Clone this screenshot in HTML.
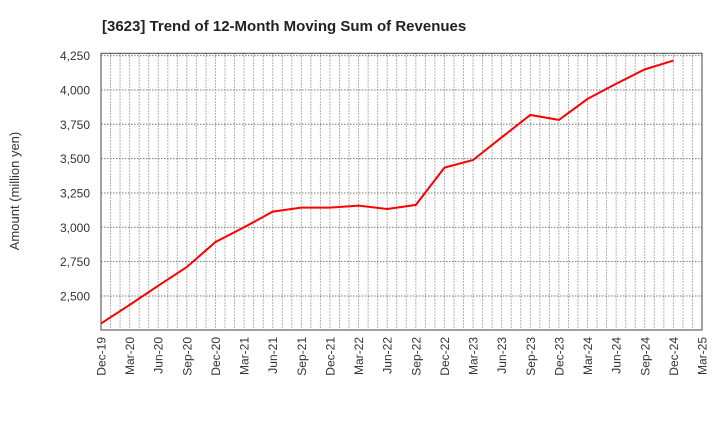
<!DOCTYPE html>
<html><head><meta charset="utf-8"><style>
body{margin:0;background:#fff;font-family:"Liberation Sans",sans-serif}
</style></head><body>
<svg id="chart" width="720" height="440" xmlns="http://www.w3.org/2000/svg">
<text x="102" y="31" text-anchor="start" font-size="15" font-weight="bold" fill="#222">[3623]  Trend of 12-Month Moving Sum of Revenues</text>
<text transform="translate(19,191) rotate(-90)" text-anchor="middle" font-size="13" fill="#333">Amount (million yen)</text>
<g id="grid"></g><g id="axes"></g><g id="series"></g>
</svg>
<script>
const categories=["Dec-19","Mar-20","Jun-20","Sep-20","Dec-20","Mar-21","Jun-21","Sep-21","Dec-21","Mar-22","Jun-22","Sep-22","Dec-22","Mar-23","Jun-23","Sep-23","Dec-23","Mar-24","Jun-24","Sep-24","Dec-24","Mar-25"];
const revenues=[2300,2435,2575,2711,2893,3000,3114,3143,3143,3158,3133,3163,3434,3490,3655,3818,3782,3935,4045,4150,4214];
const yTicks=[2500,2750,3000,3250,3500,3750,4000,4250];
const X0=101,X1=702,Y0=330,Y1=53.3,VMIN=2252,VMAX=4267;
const xs=i=>X0+(X1-X0)*i/(categories.length-1);
const ys=v=>Y0-(v-VMIN)/(VMAX-VMIN)*(Y0-Y1);
const NS="http://www.w3.org/2000/svg";
function mk(tag,attrs,parent){const e=document.createElementNS(NS,tag);for(const k in attrs)e.setAttribute(k,attrs[k]);parent.appendChild(e);return e;}
const grid=document.getElementById('grid'),axes=document.getElementById('axes'),series=document.getElementById('series');
const nMonths=(categories.length-1)*3;
for(let m=1;m<nMonths;m++){const x=X0+(X1-X0)*m/nMonths;
const l=mk('line',{x1:x,x2:x,y1:Y1,y2:Y0,stroke:'#999','stroke-dasharray':'1.5,1.5','stroke-width':1},grid);

}
yTicks.forEach(v=>{const y=ys(v);
const l=mk('line',{x1:X0,x2:X1,y1:y,y2:y,stroke:'#777','stroke-dasharray':'1.5,1.5','stroke-width':1},grid);


const t=mk('text',{x:X0-11,y:y+4.5,'text-anchor':'end','font-size':12,fill:'#333'},axes);t.textContent=v.toLocaleString('en-US');

});
categories.forEach((c,i)=>{const x=xs(i);
const t=mk('text',{transform:`translate(${x+4.5},${Y0+7}) rotate(-90)`,'text-anchor':'end','font-size':12,fill:'#333'},axes);t.textContent=c;

});
const frame=mk('rect',{x:X0,y:Y1,width:X1-X0,height:Y0-Y1,fill:'none',stroke:'#444','stroke-width':1},axes);


const pl=mk('polyline',{points:revenues.map((v,i)=>xs(i)+','+ys(v)).join(' '),fill:'none',stroke:'#f00','stroke-width':2},series);


</script>
</body></html>
